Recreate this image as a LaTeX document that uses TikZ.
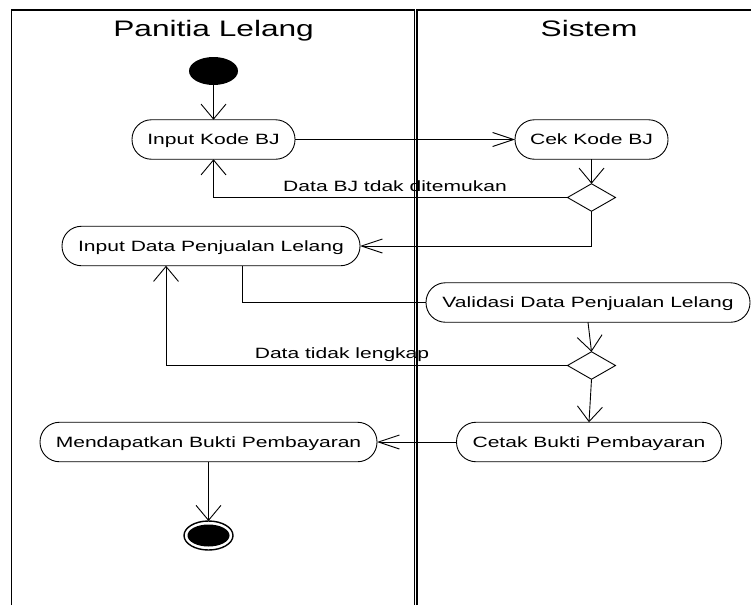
\documentclass[tikz,border=0pt]{standalone}
\usepackage{fontspec}
\setmainfont{Liberation Sans}
\usepackage{graphicx}
\usetikzlibrary{arrows.meta,shapes.geometric}
\newcommand{\hs}[1]{\scalebox{1.413}[1]{#1}}
\begin{document}
\begin{tikzpicture}[x=1pt,y=-1pt,
  every node/.style={inner sep=0pt, outer sep=0pt},
  pill/.style={draw, line width=0.9pt, rounded corners=19.5pt, minimum height=39.5pt,
    font=\fontsize{14.9}{17}\selectfont, text height=10.7pt, text depth=0pt},
  dec/.style={draw, diamond, line width=0.9pt, minimum width=48pt, minimum height=27.5pt},
  lbl/.style={font=\fontsize{14.9}{17}\selectfont, anchor=base},
  hdr/.style={font=\fontsize{22.4}{26}\selectfont, anchor=base},
  conn/.style={line width=0.9pt},
  av/.style={conn, -{Straight Barb[length=15pt,width=25pt,line width=0.9pt]}},
  ah/.style={conn, -{Straight Barb[length=21pt,width=14pt,line width=0.9pt]}},
  lane/.style={line width=1.6pt}]
\useasboundingbox (0,0) rectangle (751,605);
\draw[lane] (11.5,605) -- (11.5,10) -- (414.3,10) -- (414.3,605);
\draw[lane, line width=1.3pt] (417,605) -- (417,10) -- (751,10);

\node[hdr] (h1) at (213.6,36) {\hs{Panitia Lelang}};
\node[hdr] (h2) at (589,36) {\hs{Sistem}};

\node[fill, ellipse, minimum width=49pt, minimum height=28pt] (start) at (213.5,71) {};
\node[pill, minimum width=163pt] (ikb) at (213.5,139.5) {\hs{Input Kode BJ}};
\node[pill, minimum width=153pt] (ckb) at (591.5,139.5) {\hs{Cek Kode BJ}};
\node[dec] (d1) at (591.5,197.5) {};
\node[pill, minimum width=298pt] (idp) at (211,246) {\hs{Input Data Penjualan Lelang}};
\node[pill, minimum width=324pt] (vdp) at (588,302.5) {\hs{Validasi Data Penjualan Lelang}};
\node[dec] (d2) at (591.5,365.5) {};
\node[pill, minimum width=265pt] (cbp) at (589,442) {\hs{Cetak Bukti Pembayaran}};
\node[pill, minimum width=337pt] (mbp) at (208.5,442) {\hs{Mendapatkan Bukti Pembayaran}};
\node[draw, ellipse, line width=1.4pt, minimum width=49pt, minimum height=29pt] (end) at (208.5,535.5) {};
\fill (end.center) ellipse [x radius=21pt, y radius=11pt];

\node[lbl] (l1) at (395,191) {\hs{Data BJ tdak ditemukan}};
\node[lbl] (l2) at (342,358) {\hs{Data tidak lengkap}};

\draw[av] (start) -- (ikb);
\draw[ah] (ikb) -- (ckb);
\draw[av] (ckb) -- (d1);
\draw[av] (d1.west) -| (ikb.south);
\draw[ah] (d1.south) |- (idp.east);
\draw[conn] ([xshift=31.3pt]idp.south) |- (vdp.west);
\draw[av] (vdp.south) -- (d2.north);
\draw[av] (d2.west) -| ([xshift=-45pt]idp.south);
\draw[av] (d2.south) -- (cbp.north);
\draw[ah] (cbp) -- (mbp);
\draw[av] (mbp) -- (end);
\end{tikzpicture}
\end{document}
